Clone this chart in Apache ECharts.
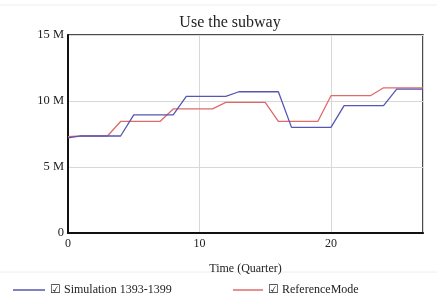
<!DOCTYPE html>
<html>
<head>
<meta charset="utf-8">
<script src="https://cdn.jsdelivr.net/npm/echarts@6/dist/echarts.min.js"></script>
<style>
  html, body { margin: 0; padding: 0; background: #fff; }
  #chart { width: 437px; height: 298px; }
</style>
</head>
<body>
<div id="chart"></div>
<script>
// 时间轴（季度）
var quarters = [0, 1, 2, 3, 4, 5, 6, 7, 8, 9, 10, 11, 12, 13, 14, 15, 16, 17, 18, 19, 20, 21, 22, 23, 24, 25, 26, 27];
// 模拟值（百万）
var simulation = [7.2, 7.35, 7.35, 7.35, 7.35, 8.95, 8.95, 8.95, 8.95, 10.35, 10.35, 10.35, 10.35, 10.7, 10.7, 10.7, 10.7, 8.0, 8.0, 8.0, 8.0, 9.65, 9.65, 9.65, 9.65, 10.9, 10.9, 10.9];
// 参考模式（百万）
var referenceMode = [7.3, 7.35, 7.35, 7.35, 8.45, 8.45, 8.45, 8.45, 9.4, 9.4, 9.4, 9.4, 9.9, 9.9, 9.9, 9.9, 8.45, 8.45, 8.45, 8.45, 10.4, 10.4, 10.4, 10.4, 11.0, 11.0, 11.0, 11.0];
var yTicks = [0, 5, 10, 15];

var serif = "'Liberation Serif', 'DejaVu Serif', serif";
var blue = "#5656b4";
var red = "#e06a6a";

function pairs(vals) {
    return quarters.map(function (q, i) { return [q, vals[i] * 1e6]; });
}

var chart = echarts.init(document.getElementById("chart"));
chart.setOption({
    animation: false,
    backgroundColor: "#fff",
    title: {
        text: "Use the subway",
        left: 225, top: 10, textAlign: "center",
        textStyle: { fontFamily: serif, fontSize: 16, fontWeight: "normal", color: "#222" }
    },
    grid: {
        left: 68, right: 14, top: 35, bottom: 65,
        show: true, borderColor: "#111", borderWidth: 1.5, backgroundColor: "transparent"
    },
    xAxis: {
        type: "value", min: 0, max: 27, interval: 10,
        name: "Time (Quarter)", nameLocation: "middle", nameGap: 30,
        nameTextStyle: { fontFamily: serif, fontSize: 12, color: "#222" },
        axisLine: { show: true, lineStyle: { color: "#111", width: 2 } },
        axisTick: { show: false },
        axisLabel: { fontFamily: serif, fontSize: 12, color: "#222", margin: 5, showMaxLabel: false },
        splitLine: { show: true, lineStyle: { color: "#d8d8d8", width: 1 } }
    },
    yAxis: {
        type: "value", min: 0, max: yTicks[yTicks.length - 1] * 1e6, interval: 5e6,
        axisLine: { show: true, lineStyle: { color: "#111", width: 2 } },
        axisTick: { show: false },
        axisLabel: {
            fontFamily: serif, fontSize: 12.5, color: "#222", margin: 4,
            formatter: function (v) { return v === 0 ? "0" : (v / 1e6) + " M"; }
        },
        splitLine: { show: true, lineStyle: { color: "#d8d8d8", width: 1 } }
    },
    legend: [
        {
            data: ["Simulation 1393-1399"], left: 8, top: 279,
            icon: "rect", itemWidth: 32, itemHeight: 1.5, itemGap: 4,
            formatter: function (n) { return "\u2611 " + n; },
            textStyle: { fontFamily: serif, fontSize: 12, color: "#222" }
        },
        {
            data: ["ReferenceMode"], left: 228, top: 279,
            icon: "rect", itemWidth: 30, itemHeight: 1.5, itemGap: 4,
            formatter: function (n) { return "\u2611 " + n; },
            textStyle: { fontFamily: serif, fontSize: 12, color: "#222" }
        }
    ],
    graphic: [
        { type: "line", shape: { x1: 0, y1: 5, x2: 437, y2: 5 }, style: { stroke: "#eeeeee", lineWidth: 1 } },
        { type: "line", shape: { x1: 0, y1: 272, x2: 437, y2: 272 }, style: { stroke: "#eeeeee", lineWidth: 1 } }
    ],
    series: [
        {
            name: "Simulation 1393-1399", type: "line", data: pairs(simulation),
            symbol: "none", color: blue, lineStyle: { color: blue, width: 1.3 }, z: 3
        },
        {
            name: "ReferenceMode", type: "line", data: pairs(referenceMode),
            symbol: "none", color: red, lineStyle: { color: red, width: 1.3 }, z: 2
        }
    ]
});
</script>
</body>
</html>
